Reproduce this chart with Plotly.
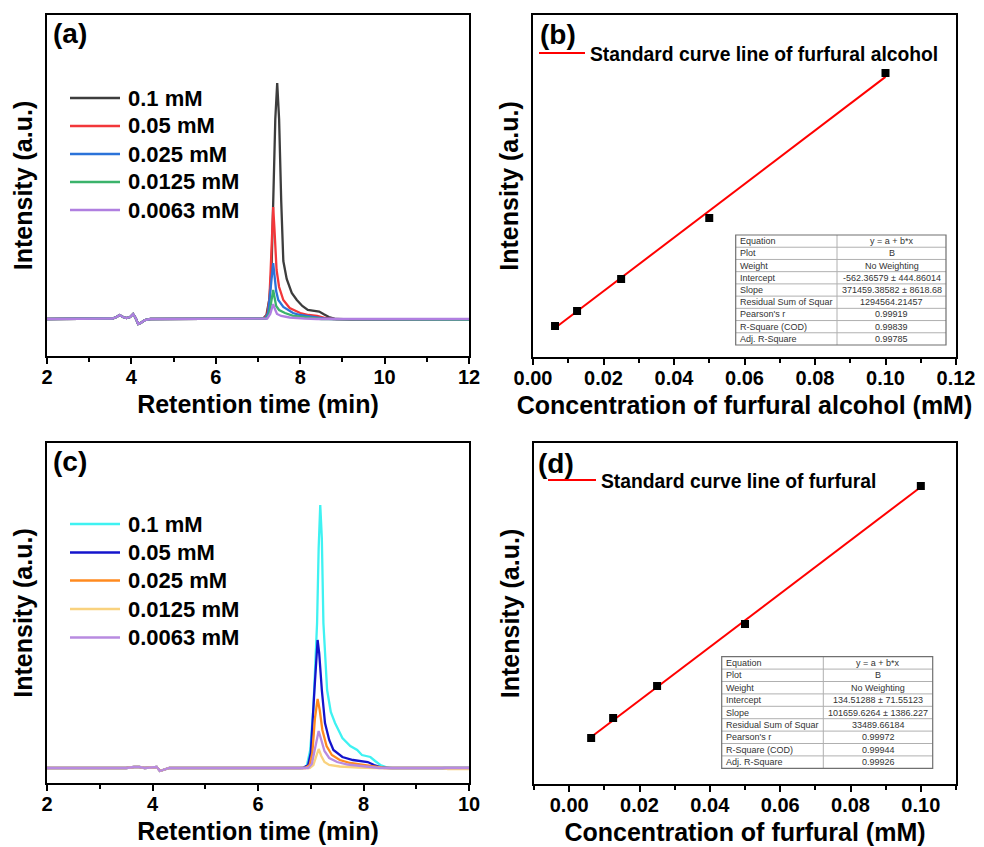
import plotly.graph_objects as go

W, H = 984, 847
FONT = "Arial, 'Liberation Sans', sans-serif"

# ---------------- data ----------------
conc_labels = ["0.1 mM", "0.05 mM", "0.025 mM", "0.0125 mM", "0.0063 mM"]

# (a) furfural alcohol chromatograms (time in min, intensity in a.u.)
a_base_t = [2.0, 3.0, 3.55, 3.65, 3.72, 3.8, 3.88, 3.97, 4.04, 4.1, 4.16, 4.22, 4.32, 4.45, 5.0, 6.0]
a_base_i = [0, 0, 0.5, 2, 4, 2, 1, 2, 5, 1, -5, -4, -1, 0, 0, 0]
a_t = [
    [7.0, 7.12, 7.2, 7.27, 7.32, 7.36, 7.41, 7.455, 7.5, 7.55, 7.6, 7.68, 7.8, 7.92, 8.05, 8.18, 8.3, 8.45, 8.55, 8.68, 8.85, 9.2, 12.0],
    [7.0, 7.15, 7.22, 7.27, 7.3, 7.33, 7.36, 7.39, 7.44, 7.5, 7.6, 7.75, 8.0, 8.2, 8.4, 8.6, 8.8, 12.0],
    [7.0, 7.17, 7.24, 7.29, 7.33, 7.36, 7.39, 7.43, 7.48, 7.6, 7.83, 8.0, 8.3, 8.55, 8.8, 12.0],
    [7.0, 7.2, 7.27, 7.32, 7.36, 7.39, 7.43, 7.5, 7.64, 7.85, 8.2, 8.5, 12.0],
    [7.0, 7.22, 7.29, 7.33, 7.36, 7.4, 7.45, 7.55, 7.75, 8.1, 8.4, 12.0],
]
a_i = [
    [0, 0.5, 4, 20, 49, 118, 200, 236, 200, 118, 58, 40, 26, 19, 13, 9, 8, 7.5, 5, 2, 0, -0.5, -0.5],
    [0, 0.5, 5, 20, 49, 85, 112, 90, 49, 32, 19, 11, 6, 4, 3, 1, 0, -0.5],
    [0, 0.5, 6, 25, 45, 56, 44, 28, 19, 12, 6, 4, 2, 0.5, 0, -0.5],
    [0, 0.5, 6, 20, 29, 22, 13, 9, 6, 3, 1, 0, -0.5],
    [0, 0.5, 5, 12, 15, 10, 5, 3, 1.5, 0.5, 0, 0],
]
a_colors = ["#3d3d3d", "#f2373a", "#2b73d9", "#3bb36b", "#b07fe0"]

# (c) furfural chromatograms
c_base_t = [2.0, 3.5, 3.65, 3.75, 3.85, 4.02, 4.08, 4.14, 4.22, 4.32, 5.0, 6.0]
c_base_i = [0, 0, 1, 1, 0, 0.5, 1, -3, -1.5, 0, 0, 0]
c_t = [
    [6.8, 6.92, 6.99, 7.05, 7.12, 7.15, 7.18, 7.21, 7.24, 7.31, 7.38, 7.46, 7.6, 7.75, 7.88, 7.97, 8.05, 8.13, 8.22, 8.32, 8.45, 8.55, 9.0, 10.0],
    [6.85, 6.95, 7.0, 7.07, 7.1, 7.13, 7.16, 7.21, 7.27, 7.35, 7.43, 7.6, 7.8, 7.95, 8.08, 8.2, 8.35, 8.5, 10.0],
    [6.9, 6.98, 7.03, 7.08, 7.13, 7.17, 7.22, 7.3, 7.4, 7.55, 7.75, 8.0, 8.2, 8.4, 10.0],
    [6.98, 7.05, 7.1, 7.15, 7.2, 7.26, 7.35, 7.55, 7.9, 8.2, 9.5, 9.6, 10.0],
    [6.95, 7.02, 7.08, 7.15, 7.2, 7.26, 7.35, 7.5, 7.7, 8.0, 8.3, 10.0],
]
c_i = [
    [0, 1, 18, 60, 145, 220, 263, 230, 145, 78, 56, 45, 30, 22, 18, 13, 12, 11, 7, 3, 0.5, 0, 0, 0],
    [0, 3, 15, 78, 110, 128, 115, 78, 45, 28, 18, 11, 8, 7, 6, 3, 0.5, 0, 0],
    [0, 3, 15, 50, 69, 58, 38, 22, 13, 8, 5, 3, 1.5, 0, 0],
    [0, 3, 12, 19, 12, 6, 3, 1.5, 0.5, 0, 0, -1, -1],
    [0, 4, 20, 37, 28, 17, 10, 6, 3.5, 1.5, 0, 0],
]
c_colors = ["#3ff2f2", "#1414cc", "#ff8a1f", "#f9d27e", "#b88be0"]

# (b) furfural alcohol standard curve
b_conc = [0.00625, 0.0125, 0.025, 0.05, 0.1]
b_int = [2036, 4117, 8555, 17016, 37129]
b_intercept, b_slope = -562.36579, 371459.38582
fit_names = ["Equation", "Plot", "Weight", "Intercept", "Slope", "Residual Sum of Squar",
             "Pearson's r", "R-Square (COD)", "Adj. R-Square"]
b_vals = ["y = a + b*x", "B", "No Weighting", "-562.36579 ± 444.86014", "371459.38582 ± 8618.68",
          "1294564.21457", "0.99919", "0.99839", "0.99785"]

# (d) furfural standard curve
d_conc = [0.00625, 0.0125, 0.025, 0.05, 0.1]
d_int = [732, 1494, 2714, 5077, 10338]
d_intercept, d_slope = 134.51288, 101659.6264
d_vals = ["y = a + b*x", "B", "No Weighting", "134.51288 ± 71.55123", "101659.6264 ± 1386.227",
          "33489.66184", "0.99972", "0.99944", "0.99926"]


def px(x):
    return x / W


def py(y):
    return 1 - y / H


fig = go.Figure()

# chromatograms
for k in range(5):
    fig.add_trace(go.Scatter(x=a_base_t + a_t[k], y=a_base_i + a_i[k], mode="lines",
                             line=dict(color=a_colors[k], width=2.3), name=conc_labels[k],
                             xaxis="x", yaxis="y", showlegend=False))
for k in range(5):
    fig.add_trace(go.Scatter(x=c_base_t + c_t[k], y=c_base_i + c_i[k], mode="lines",
                             line=dict(color=c_colors[k], width=2.3), name=conc_labels[k],
                             xaxis="x3", yaxis="y3", showlegend=False))

# standard curves
for conc, inten, a0, b0, xa, ya, lg, nm in [
    (b_conc, b_int, b_intercept, b_slope, "x2", "y2", "legend", "Standard curve line of furfural alcohol"),
    (d_conc, d_int, d_intercept, d_slope, "x4", "y4", "legend2", "Standard curve line of furfural"),
]:
    xs = [conc[0], conc[-1]]
    fig.add_trace(go.Scatter(x=xs, y=[a0 + b0 * v for v in xs], mode="lines",
                             line=dict(color="#ff0000", width=2), name=nm,
                             xaxis=xa, yaxis=ya, legend=lg))
    fig.add_trace(go.Scatter(x=conc, y=inten, mode="markers",
                             marker=dict(symbol="square", size=8, color="black"),
                             showlegend=False, xaxis=xa, yaxis=ya))

shapes = []
annotations = []

# fit-result tables (drawn as boxes + text)
for (x0, x1, xs, y0, y1), vals in [((735.7, 946, 837, 235, 345), b_vals),
                                    ((721.7, 932.7, 823.3, 656.7, 768.3), d_vals)]:
    n = len(fit_names)
    rh = (y1 - y0) / n
    for r in range(1, n):
        shapes.append(dict(type="line", xref="paper", yref="paper", x0=px(x0), x1=px(x1),
                           y0=py(y0 + r * rh), y1=py(y0 + r * rh), line=dict(color="#b0b0b0", width=1)))
    shapes.append(dict(type="line", xref="paper", yref="paper", x0=px(xs), x1=px(xs),
                       y0=py(y0), y1=py(y1), line=dict(color="#b0b0b0", width=1)))
    shapes.append(dict(type="rect", xref="paper", yref="paper", x0=px(x0), x1=px(x1),
                       y0=py(y1), y1=py(y0), line=dict(color="#707070", width=1.2)))
    for r in range(n):
        yc = y0 + (r + 0.5) * rh
        annotations.append(dict(text=fit_names[r], x=px(x0 + 2), y=py(yc), xref="paper", yref="paper",
                                xanchor="left", yanchor="middle", showarrow=False,
                                font=dict(size=9, family=FONT, color="#333")))
        annotations.append(dict(text=vals[r], x=px((xs + x1) / 2), y=py(yc), xref="paper", yref="paper",
                                xanchor="center", yanchor="middle", showarrow=False,
                                font=dict(size=9, family=FONT, color="#333")))

# legends of the chromatograms
for colors, ys in [(a_colors, [98, 126, 154, 182, 210]), (c_colors, [524, 552.5, 580.5, 609, 637.5])]:
    for k in range(5):
        shapes.append(dict(type="line", xref="paper", yref="paper", x0=px(70), x1=px(120),
                           y0=py(ys[k]), y1=py(ys[k]), line=dict(color=colors[k], width=2.5)))
        annotations.append(dict(text=conc_labels[k], x=px(126), y=py(ys[k]), xref="paper", yref="paper",
                                xanchor="left", yanchor="middle", showarrow=False,
                                font=dict(size=22, family=FONT, color="black", weight="bold")))

# panel labels
for t, lx, ly in [("(a)", 51, 34), ("(b)", 538, 35), ("(c)", 51, 461), ("(d)", 536, 463)]:
    annotations.append(dict(text=t, x=px(lx), y=py(ly), xref="paper", yref="paper", xanchor="left",
                            yanchor="middle", showarrow=False,
                            font=dict(size=28, family=FONT, color="black", weight="bold")))

tickfont = dict(size=20, family=FONT, color="black", weight="bold")
titlefont = dict(size=25, family=FONT, color="black", weight="bold")


def xaxis(dom, rng, dtick, tick0, mdtick, title, anchor, fmt):
    return dict(domain=dom, range=rng, dtick=dtick, tick0=tick0, anchor=anchor, tickformat=fmt,
                showline=True, linecolor="black", linewidth=2, mirror=True,
                showgrid=False, zeroline=False, automargin=False,
                ticks="outside", ticklen=6, tickwidth=2, tickcolor="black", tickfont=tickfont,
                ticklabelstandoff=-4,
                minor=dict(ticks="outside", ticklen=4, tickwidth=2, tickcolor="black", dtick=mdtick, showgrid=False),
                title=dict(text=title, font=titlefont, standoff=8))


def yaxis(dom, rng, anchor):
    return dict(domain=dom, range=rng, anchor=anchor, automargin=False,
                showline=True, linecolor="black", linewidth=2, mirror=True,
                showgrid=False, zeroline=False, showticklabels=False, ticks="",
                title=dict(text="Intensity (a.u.)", font=titlefont, standoff=5))


legfont2 = dict(size=19.3, family=FONT, color="black", weight="bold")

fig.update_layout(
    width=W, height=H, margin=dict(l=0, r=0, t=0, b=0, autoexpand=False),
    paper_bgcolor="white", plot_bgcolor="white",
    font=dict(family=FONT, color="black"),
    xaxis=xaxis([px(47), px(469)], [2, 12], 2, 2, 1, "Retention time (min)", "y", "d"),
    yaxis=yaxis([py(356), py(15)], [-37, 304], "x"),
    xaxis2=xaxis([px(533), px(956)], [0, 0.12], 0.02, 0, 0.01, "Concentration of furfural alcohol (mM)", "y2", ".2f"),
    yaxis2=yaxis([py(357), py(15)], [-2263, 45172], "x2"),
    xaxis3=xaxis([px(47), px(469)], [2, 10], 2, 2, 1, "Retention time (min)", "y3", "d"),
    yaxis3=yaxis([py(783), py(443)], [-15, 325], "x3"),
    xaxis4=xaxis([px(534), px(956)], [-0.01, 0.11], 0.02, 0, 0.01, "Concentration of furfural (mM)", "y4", ".2f"),
    yaxis4=yaxis([py(784), py(443)], [-1022, 11977], "x4"),
    legend=dict(x=px(534), y=py(34), xanchor="left", yanchor="top", font=legfont2,
                bgcolor="rgba(0,0,0,0)", itemwidth=46),
    legend2=dict(x=px(543), y=py(461), xanchor="left", yanchor="top", font=legfont2,
                 bgcolor="rgba(0,0,0,0)", itemwidth=48),
    shapes=shapes,
    annotations=annotations,
)

fig.write_html("out.html")
